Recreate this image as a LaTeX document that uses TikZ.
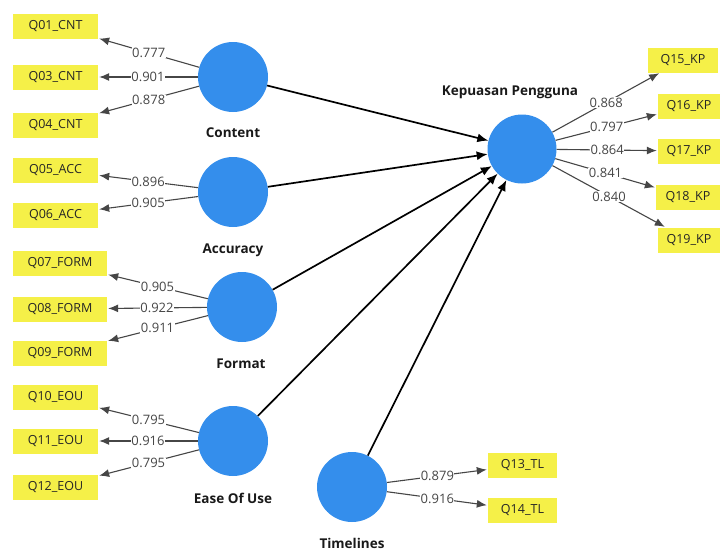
\documentclass[tikz,border=0pt]{standalone}
\usepackage{fontspec}
\setmainfont{Open Sans}
\usetikzlibrary{arrows.meta}
\definecolor{boxyellow}{RGB}{245,240,72}
\definecolor{lvblue}{RGB}{52,142,236}
\definecolor{loadgray}{RGB}{70,70,70}
\tikzset{
  ind/.style={fill=boxyellow, draw=none, minimum height=25pt, inner sep=0pt, font=\fontsize{12.5}{13}\selectfont, text=black!85},
  lv/.style={circle, fill=lvblue, draw=none, minimum size=70pt, inner sep=0pt},
  lvlabel/.style={font=\bfseries\fontsize{13.5}{14}\selectfont, text=black!90},
  load/.style={draw=loadgray, line width=1.1pt, -{Latex[length=10pt,width=8pt]}, shorten >=1pt},
  loadlbl/.style={fill=white, inner sep=0.5pt, text=loadgray, font=\fontsize{13}{14}\selectfont},
  path/.style={draw=black, line width=1.7pt, -{Latex[length=11pt,width=9pt]}},
}
\begin{document}
\begin{tikzpicture}[x=1pt,y=-1pt]
\useasboundingbox (0,0) rectangle (724,552);
% latent variables
\node[lv] (cnt) at (233,77) {};
\node[lv] (acc) at (233,192) {};
\node[lv] (form) at (242,307) {};
\node[lv] (eou) at (233,441) {};
\node[lv] (tl) at (352,487) {};
\node[lv, minimum size=69pt] (kp) at (522,149) {};
\node[lvlabel] (cntl) at (233,133) {Content};
\node[lvlabel] (accl) at (233,250) {Accuracy};
\node[lvlabel] (forml) at (241,364) {Format};
\node[lvlabel] (eoul) at (233,498) {Ease Of Use};
\node[lvlabel] (tll) at (352,543) {Timelines};
\node[lvlabel] (kpl) at (510,92) {Kepuasan Pengguna};
% indicators
\node[ind, minimum width=85pt] (q01) at (55.5,26) {Q01\_CNT};
\node[ind, minimum width=85pt] (q03) at (55.5,77) {Q03\_CNT};
\node[ind, minimum width=85pt] (q04) at (55.5,125) {Q04\_CNT};
\node[ind, minimum width=85pt] (q05) at (55.5,170) {Q05\_ACC};
\node[ind, minimum width=85pt] (q06) at (55.5,215) {Q06\_ACC};
\node[ind, minimum width=94pt] (q07) at (60,263) {Q07\_FORM};
\node[ind, minimum width=94pt] (q08) at (60,309) {Q08\_FORM};
\node[ind, minimum width=94pt] (q09) at (60,353) {Q09\_FORM};
\node[ind, minimum width=85pt] (q10) at (55.5,397) {Q10\_EOU};
\node[ind, minimum width=85pt] (q11) at (55.5,441) {Q11\_EOU};
\node[ind, minimum width=85pt] (q12) at (55.5,487) {Q12\_EOU};
\node[ind, minimum width=69pt] (q13) at (522.5,465) {Q13\_TL};
\node[ind, minimum width=69pt] (q14) at (522.5,510) {Q14\_TL};
\node[ind, minimum width=70pt] (q15) at (683,60) {Q15\_KP};
\node[ind, minimum width=62pt] (q16) at (689,106) {Q16\_KP};
\node[ind, minimum width=62pt] (q17) at (689,151) {Q17\_KP};
\node[ind, minimum width=64pt] (q18) at (688,197) {Q18\_KP};
\node[ind, minimum width=62pt] (q19) at (689,240) {Q19\_KP};
% loadings
\draw[load] (cnt) -- node[loadlbl] {0.777} (q01);
\draw[load] (cnt) -- node[loadlbl] {0.901} (q03);
\draw[load] (cnt) -- node[loadlbl] {0.878} (q04);
\draw[load] (acc) -- node[loadlbl] {0.896} (q05);
\draw[load] (acc) -- node[loadlbl] {0.905} (q06);
\draw[load] (form) -- node[loadlbl] {0.905} (q07);
\draw[load] (form) -- node[loadlbl] {0.922} (q08);
\draw[load] (form) -- node[loadlbl] {0.911} (q09);
\draw[load] (eou) -- node[loadlbl] {0.795} (q10);
\draw[load] (eou) -- node[loadlbl] {0.916} (q11);
\draw[load] (eou) -- node[loadlbl] {0.795} (q12);
\draw[load] (tl) -- node[loadlbl] {0.879} (q13);
\draw[load] (tl) -- node[loadlbl] {0.916} (q14);
\draw[load] (kp) -- node[loadlbl] {0.868} (q15);
\draw[load] (kp) -- node[loadlbl] {0.797} (q16);
\draw[load] (kp) -- node[loadlbl] {0.864} (q17);
\draw[load] (kp) -- node[loadlbl] {0.841} (q18);
\draw[load] (kp) -- node[loadlbl] {0.840} (q19);
% structural paths
\draw[path] (cnt) -- (kp);
\draw[path] (acc) -- (kp);
\draw[path] (form) -- (kp);
\draw[path] (eou) -- (kp);
\draw[path] (tl) -- (kp);
\end{tikzpicture}
\end{document}
